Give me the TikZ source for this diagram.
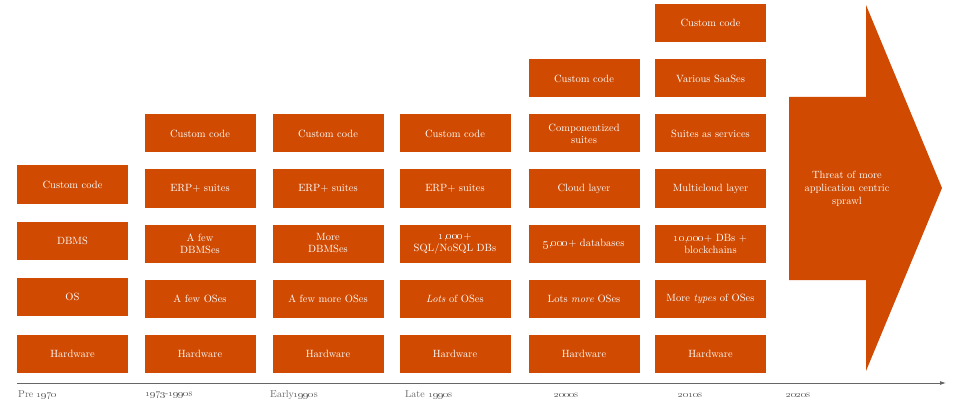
\documentclass[tikz,border=0pt]{standalone}
\usepackage{xcolor}
\usepackage{tikz}
\usetikzlibrary{arrows.meta}
\definecolor{pwcorange}{HTML}{D04A02}
\definecolor{axisgray}{HTML}{666666}
\tikzset{
    layer/.style={fill=pwcorange, text=white, minimum width=111pt, minimum height=38pt, inner sep=1pt, align=center, font=\fontsize{10.5}{12}\selectfont},
    era/.style={anchor=west, text=axisgray, inner sep=0pt, font=\fontsize{10}{12}\selectfont}}
\newcommand{\osn}[1]{\oldstylenums{#1}}

\begin{document}
\begin{tikzpicture}[x=1pt,y=-1pt]
\useasboundingbox (0,0) rectangle (960,406);

% pre 1970
\node[layer] (a1) at (72.5,354) {Hardware};
\node[layer] (a2) at (72.5,297) {OS};
\node[layer] (a3) at (72.5,241) {DBMS};
\node[layer] (a4) at (72.5,184.5) {Custom code};

% 1973-1990s
\node[layer] (b1) at (200,354) {Hardware};
\node[layer] (b2) at (200,298.5) {A few OSes};
\node[layer] (b3) at (200,243.5) {A few\\DBMSes};
\node[layer] (b4) at (200,188.5) {ERP+ suites};
\node[layer] (b5) at (200,133.5) {Custom code};

% early 1990s
\node[layer] (c1) at (328,354) {Hardware};
\node[layer] (c2) at (328,298.5) {A few more OSes};
\node[layer] (c3) at (328,243.5) {More\\DBMSes};
\node[layer] (c4) at (328,188.5) {ERP+ suites};
\node[layer] (c5) at (328,133.5) {Custom code};

% late 1990s
\node[layer] (d1) at (455,354) {Hardware};
\node[layer] (d2) at (455,298.5) {\textit{Lots} of OSes};
\node[layer] (d3) at (455,243.5) {\osn{1},\osn{000}+\\SQL/NoSQL DBs};
\node[layer] (d4) at (455,188.5) {ERP+ suites};
\node[layer] (d5) at (455,133.5) {Custom code};

% 2000s
\node[layer] (e1) at (584,354) {Hardware};
\node[layer] (e2) at (584,298.5) {Lots \textit{more} OSes};
\node[layer] (e3) at (584,243.5) {\osn{5},\osn{000}+ databases};
\node[layer] (e4) at (584,188.5) {Cloud layer};
\node[layer] (e5) at (584,133.5) {Componentized\\suites};
\node[layer] (e6) at (584,78.5) {Custom code};

% 2010s
\node[layer] (f1) at (710.5,354) {Hardware};
\node[layer] (f2) at (710.5,298.5) {More \textit{types} of OSes};
\node[layer] (f3) at (710.5,243.5) {\osn{10},\osn{000}+ DBs +\\blockchains};
\node[layer] (f4) at (710.5,188.5) {Multicloud layer};
\node[layer] (f5) at (710.5,133.5) {Suites as services};
\node[layer] (f6) at (710.5,78.5) {Various SaaSes};
\node[layer] (f7) at (710.5,23) {Custom code};

% 2020s arrow
\fill[pwcorange] (789,97) -- (866,97) -- (866,5) -- (942,188) -- (866,371) -- (866,280) -- (789,280) -- cycle;
\node[text=white, align=center, font=\fontsize{10.5}{13}\selectfont] (sprawl) at (847,189) {Threat of more\\application centric\\sprawl};

% time axis
\coordinate (axisL) at (17,383);
\coordinate (axisR) at (946,383);
\draw[axisgray, line width=0.8pt, -{Latex[length=6pt,width=4pt]}] (axisL) -- (axisR);

\node[era] (t1) at (18,395) {Pre \osn{1970}};
\node[era] (t2) at (145,395) {\osn{1973}-\osn{1990}s};
\node[era] (t3) at (270,395) {Early\osn{1990}s};
\node[era] (t4) at (405,395) {Late \osn{1990}s};
\node[era] (t5) at (554,395) {\osn{2000}s};
\node[era] (t6) at (678,395) {\osn{2010}s};
\node[era] (t7) at (786,395) {\osn{2020}s};
\end{tikzpicture}
\end{document}
